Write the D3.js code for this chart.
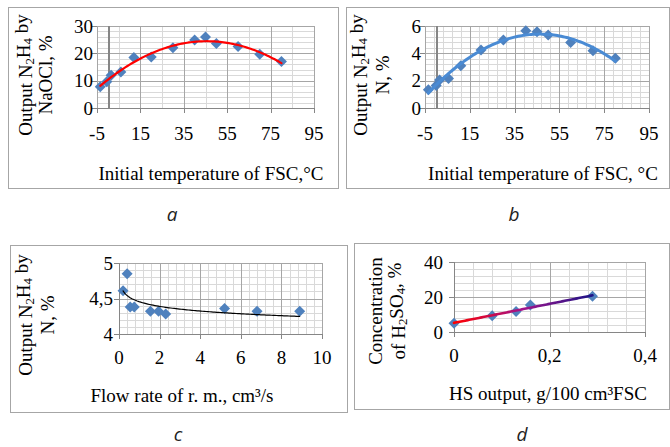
<!DOCTYPE html>
<html><head><meta charset="utf-8">
<script src="https://cdn.jsdelivr.net/npm/d3@7"></script>
<style>
html,body{margin:0;padding:0;background:#fff;}
svg{display:block;}
</style></head>
<body>
<svg id="chart" width="670" height="447"></svg>
<script>
// ---------- DATA ----------
const tempA = [-3.5, -0.5, 1.5, 6, 12, 20, 30, 40, 45, 50, 60, 70, 80];
const yieldNaOCl = [7.8, 9.6, 12, 13.2, 18.5, 18.7, 22, 24.9, 26, 23.6, 22.5, 19.7, 17];
const tempB = [-3.5, 0, 1.5, 5.5, 11, 20, 30, 40, 45, 50, 60, 70, 80];
const yieldN = [1.33, 1.65, 2.05, 2.15, 3.1, 4.25, 4.98, 5.65, 5.58, 5.35, 4.8, 4.18, 3.64];
const flowRate = [0.2, 0.4, 0.55, 0.75, 1.55, 1.95, 2.3, 5.2, 6.8, 8.9];
const yieldFlow = [4.61, 4.85, 4.38, 4.38, 4.32, 4.32, 4.28, 4.36, 4.32, 4.32];
const hsOutput = [0, 0.08, 0.13, 0.16, 0.29];
const h2so4 = [5, 9.3, 11.7, 15.5, 20.4];

const ticksTemp = [-5, 15, 35, 55, 75, 95];
const ticksYA = [0, 10, 20, 30];
const ticksYB = [0, 2, 4, 6];
const ticksFlowX = [0, 2, 4, 6, 8, 10];
const ticksFlowY = [4, 4.5, 5];
const ticksHsX = [0, 0.2, 0.4];
const ticksHsY = [0, 20, 40];

const panelLetters = ["a", "b", "c", "d"];

// ---------- FIT HELPERS (trendlines as in the source) ----------
function fitPoly2(xs, ys) {
  let n = xs.length, s = [0,0,0,0,0], t = [0,0,0];
  for (let i = 0; i < n; i++) {
    let p = 1;
    for (let k = 0; k < 5; k++) { s[k] += p; p *= xs[i]; }
    t[0] += ys[i]; t[1] += ys[i]*xs[i]; t[2] += ys[i]*xs[i]*xs[i];
  }
  const A = [[s[0],s[1],s[2],t[0]],[s[1],s[2],s[3],t[1]],[s[2],s[3],s[4],t[2]]];
  for (let c = 0; c < 3; c++) {
    for (let r = c+1; r < 3; r++) {
      const f = A[r][c]/A[c][c];
      for (let k = c; k < 4; k++) A[r][k] -= f*A[c][k];
    }
  }
  const co = [0,0,0];
  for (let r = 2; r >= 0; r--) {
    let v = A[r][3];
    for (let k = r+1; k < 3; k++) v -= A[r][k]*co[k];
    co[r] = v/A[r][r];
  }
  return x => co[0] + co[1]*x + co[2]*x*x;
}
function fitLinear(xs, ys) {
  const mx = d3.mean(xs), my = d3.mean(ys);
  let num = 0, den = 0;
  xs.forEach((x,i) => { num += (x-mx)*(ys[i]-my); den += (x-mx)*(x-mx); });
  const b = num/den, a = my - b*mx;
  return x => a + b*x;
}
function fitLog(xs, ys) {
  const f = fitLinear(xs.map(Math.log), ys);
  return x => f(Math.log(x));
}

const svg = d3.select("#chart");
const SERIF = "'Liberation Serif','Times New Roman',serif";
const fmt = v => String(v).replace(".", ",");

const defs = svg.append("defs");
const grad = defs.append("linearGradient").attr("id","gradD").attr("gradientUnits","userSpaceOnUse");

function diamond(g, x, y, color) {
  const r = 5.5;
  g.append("path").attr("d", `M${x},${y-r}L${x+r},${y}L${x},${y+r}L${x-r},${y}Z`)
    .attr("fill", color);
}

function panel(cfg) {
  const g = svg.append("g");
  g.append("rect").attr("x", cfg.box[0]+0.5).attr("y", cfg.box[1]+0.5)
    .attr("width", cfg.box[2]-cfg.box[0]).attr("height", cfg.box[3]-cfg.box[1])
    .attr("fill", "#fff").attr("stroke", "#a6a6a6").attr("stroke-width", 1);

  const [L, R, T, B] = cfg.plot;
  const x = d3.scaleLinear().domain(cfg.xDomain).range([L, R]);
  const y = d3.scaleLinear().domain(cfg.yDomain).range([B, T]);

  const eps = 1e-9;
  const vMinor = d3.range(cfg.xDomain[0], cfg.xDomain[1] + eps, cfg.xMinor);
  const hMinor = d3.range(cfg.yDomain[0], cfg.yDomain[1] + eps, cfg.yMinor);
  const vMajor = d3.range(cfg.xDomain[0], cfg.xDomain[1] + eps, cfg.xMajor);
  const hMajor = d3.range(cfg.yDomain[0], cfg.yDomain[1] + eps, cfg.yMajor);
  const grid = g.append("g").attr("shape-rendering", "crispEdges");
  grid.selectAll(".vm").data(vMinor).join("line")
    .attr("x1", d => Math.round(x(d))+0.5).attr("x2", d => Math.round(x(d))+0.5)
    .attr("y1", T).attr("y2", B).attr("stroke", "#d9d9d9");
  grid.selectAll(".hm").data(hMinor).join("line")
    .attr("y1", d => Math.round(y(d))+0.5).attr("y2", d => Math.round(y(d))+0.5)
    .attr("x1", L).attr("x2", R).attr("stroke", "#d9d9d9");
  grid.selectAll(".vM").data(vMajor).join("line")
    .attr("x1", d => Math.round(x(d))+0.5).attr("x2", d => Math.round(x(d))+0.5)
    .attr("y1", T).attr("y2", B).attr("stroke", "#a6a6a6");
  grid.selectAll(".hM").data(hMajor).join("line")
    .attr("y1", d => Math.round(y(d))+0.5).attr("y2", d => Math.round(y(d))+0.5)
    .attr("x1", L).attr("x2", R).attr("stroke", "#a6a6a6");
  grid.append("rect").attr("x", L+0.5).attr("y", T+0.5).attr("width", R-L).attr("height", B-T)
    .attr("fill", "none").attr("stroke", "#a6a6a6");

  const ax = g.append("g").attr("shape-rendering", "crispEdges");
  ax.append("line").attr("x1", L).attr("x2", R+1).attr("y1", B+0.5).attr("y2", B+0.5)
    .attr("stroke", "#868686").attr("stroke-width", 1.5);
  ax.selectAll(".xt").data(cfg.xTicks).join("line")
    .attr("x1", d => Math.round(x(d))+0.5).attr("x2", d => Math.round(x(d))+0.5)
    .attr("y1", B).attr("y2", B+5).attr("stroke", "#868686");
  const yAxisX = (cfg.xDomain[0] < 0 && cfg.xDomain[1] > 0) ? Math.round(x(0)) : L;
  ax.append("line").attr("x1", yAxisX+0.5).attr("x2", yAxisX+0.5).attr("y1", T).attr("y2", B+1)
    .attr("stroke", "#868686").attr("stroke-width", cfg.xDomain[0] < 0 ? 2 : 1.5);
  ax.selectAll(".yt").data(cfg.yTicks).join("line")
    .attr("x1", L-5).attr("x2", L)
    .attr("y1", d => Math.round(y(d))+0.5).attr("y2", d => Math.round(y(d))+0.5).attr("stroke", "#868686");

  g.selectAll(".xl").data(cfg.xTicks).join("text")
    .attr("x", d => x(d)).attr("y", cfg.xLabelY)
    .attr("text-anchor", "middle").attr("dominant-baseline", "central")
    .attr("font-family", SERIF).attr("font-size", cfg.tickFont).attr("fill", "#000")
    .text(d => fmt(d));
  g.selectAll(".yl").data(cfg.yTicks).join("text")
    .attr("x", cfg.yLabelX).attr("y", d => y(d))
    .attr("text-anchor", "end").attr("dominant-baseline", "central")
    .attr("font-family", SERIF).attr("font-size", cfg.tickFont).attr("fill", "#000")
    .text(d => fmt(d));

  const f = cfg.fit(cfg.xs, cfg.ys);
  const [x0, x1] = d3.extent(cfg.xs);
  const samples = d3.range(0, 101).map(i => x0 + (x1-x0)*i/100);
  const line = d3.line().x(d => x(d)).y(d => y(f(d)));
  const mk = g.append("g");
  cfg.xs.forEach((v, i) => diamond(mk, x(v), y(cfg.ys[i]), "#4f81bd"));
  if (cfg.gradient) {
    grad.attr("x1", x(x0)).attr("x2", x(x1)).attr("y1", 0).attr("y2", 0);
    grad.selectAll("stop").data([["0%","#ff0000"],["50%","#a0148c"],["100%","#1c1487"]]).join("stop")
      .attr("offset", d => d[0]).attr("stop-color", d => d[1]);
  }
  g.append("path").datum(samples).attr("d", line).attr("fill", "none")
    .attr("stroke", cfg.trendColor).attr("stroke-width", cfg.trendWidth)
    .attr("stroke-linecap", "round");

  g.append("text").attr("x", cfg.xTitle[0]).attr("y", cfg.xTitle[1])
    .attr("text-anchor", "middle").attr("dominant-baseline", "central")
    .attr("font-family", SERIF).attr("font-size", cfg.titleFont).attr("fill", "#000")
    .html(cfg.xTitleHtml);
  cfg.yTitleLines.forEach((ln, i) => {
    g.append("text")
      .attr("transform", `translate(${cfg.yTitleX[i]},${cfg.yTitleY}) rotate(-90)`)
      .attr("text-anchor", "middle").attr("dominant-baseline", "central")
      .attr("font-family", SERIF).attr("font-size", cfg.titleFont).attr("fill", "#000")
      .html(ln);
  });
  svg.append("text").attr("x", cfg.letter[0]).attr("y", cfg.letter[1])
    .attr("text-anchor", "middle")
    .attr("font-family", "'Open Sans','Noto Sans',sans-serif").attr("font-style", "italic")
    .attr("font-size", 19).attr("fill", "#222").text(cfg.letterText);
}

const sub = s => `<tspan font-size="0.68em" dy="0.3em">${s}</tspan>`;
const n2h4 = `N${sub("2")}<tspan dy="-0.3em">H</tspan>${sub("4")}<tspan dy="-0.3em"> by</tspan>`;

panel({
  box: [8, 7, 338, 188], plot: [97, 314, 26, 108],
  xDomain: [-5, 95], yDomain: [0, 30], xMinor: 10, xMajor: 20, yMinor: 2, yMajor: 10,
  xTicks: ticksTemp, yTicks: ticksYA, xLabelY: 133, yLabelX: 93, tickFont: 19, titleFont: 19,
  xs: tempA, ys: yieldNaOCl, fit: fitPoly2, trendColor: "#ff0000", trendWidth: 2.2,
  xTitle: [211, 173], xTitleHtml: "Initial temperature of FSC,°C",
  yTitleLines: [`Output ${n2h4}`, "NaOCl, %"], yTitleX: [25, 45], yTitleY: 75,
  letter: [172, 221], letterText: panelLetters[0]
});
panel({
  box: [346, 7, 669, 188], plot: [425, 649, 26, 108],
  xDomain: [-5, 95], yDomain: [0, 6], xMinor: 4, xMajor: 20, yMinor: 0.4, yMajor: 2,
  xTicks: ticksTemp, yTicks: ticksYB, xLabelY: 133, yLabelX: 421, tickFont: 19, titleFont: 19,
  xs: tempB, ys: yieldN, fit: fitPoly2, trendColor: "#4a8bd4", trendWidth: 3,
  xTitle: [543, 173], xTitleHtml: "Initial temperature of FSC, °C",
  yTitleLines: [`Output ${n2h4}`, "N, %"], yTitleX: [360, 382], yTitleY: 75,
  letter: [514, 221], letterText: panelLetters[1]
});
panel({
  box: [10, 245, 347, 412], plot: [119, 322, 263, 334],
  xDomain: [0, 10], yDomain: [4, 5], xMinor: 0.4, xMajor: 2, yMinor: 0.1, yMajor: 0.5,
  xTicks: ticksFlowX, yTicks: ticksFlowY, xLabelY: 357, yLabelX: 113, tickFont: 19, titleFont: 19,
  xs: flowRate, ys: yieldFlow, fit: fitLog, trendColor: "#000", trendWidth: 1.2,
  xTitle: [182, 395], xTitleHtml: "Flow rate of r. m., cm³/s",
  yTitleLines: [`Output ${n2h4}`, "N, %"], yTitleX: [25, 47], yTitleY: 315,
  letter: [178, 441], letterText: panelLetters[2]
});
panel({
  box: [354, 243, 669, 409], plot: [454, 645, 262, 332],
  xDomain: [0, 0.4], yDomain: [0, 40], xMinor: 0.04, xMajor: 0.2, yMinor: 4, yMajor: 20,
  xTicks: ticksHsX, yTicks: ticksHsY, xLabelY: 355, yLabelX: 443, tickFont: 19, titleFont: 19,
  xs: hsOutput, ys: h2so4, fit: fitLinear, trendColor: "url(#gradD)", trendWidth: 2.6, gradient: true,
  xTitle: [548, 393], xTitleHtml: "HS output, g/100 cm³FSC",
  yTitleLines: ["Concentration", `of H${sub("2")}<tspan dy="-0.3em">SO</tspan>${sub("4")}<tspan dy="-0.3em">, %</tspan>`],
  yTitleX: [375, 398], yTitleY: 311,
  letter: [522, 441], letterText: panelLetters[3]
});
</script>
</body></html>
